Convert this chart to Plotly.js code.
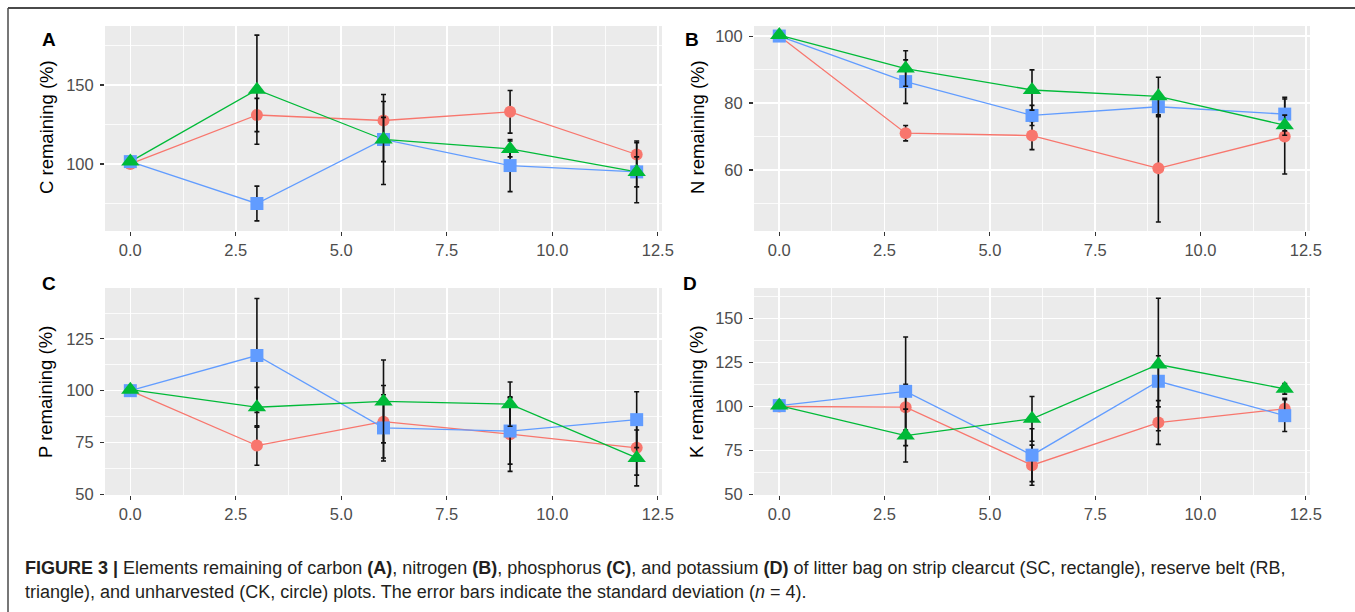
<!DOCTYPE html>
<html>
<head>
<meta charset="utf-8">
<script src="https://cdn.plot.ly/plotly-3.0.1.min.js"></script>
<style>
  html, body { margin: 0; padding: 0; background: #ffffff; }
  #chart { width: 1355px; height: 612px; }
</style>
</head>
<body>
<div id="chart"></div>
<script>
// Months after placement
const months = [0, 3, 6, 9, 12];

// Panel A: carbon remaining (%)
const cCK = [100, 131, 127.5, 133, 106];
const cCKsd = [0, 10.5, 12, 13.5, 7.5];
const cSC = [101.5, 75, 115.5, 99, 95];
const cSCsd = [0, 11, 28.5, 16.5, 19.5];
const cRB = [101.5, 147, 115.5, 109.5, 95];
const cRBsd = [0, 34.5, 14, 5, 9.5];

// Panel B: nitrogen remaining (%)
const nCK = [100, 71, 70.3, 60.5, 70];
const nCKsd = [0, 2.3, 4.2, 16, 11.2];
const nSC = [100, 86.4, 76.3, 78.9, 76.7];
const nSCsd = [0, 6.5, 3, 3, 5];
const nRB = [100.3, 90.3, 83.9, 82, 73.4];
const nRBsd = [0, 5.3, 6, 5.7, 3];

// Panel C: phosphorus remaining (%)
const pCK = [100, 73.5, 85, 79, 72.4];
const pCKsd = [0, 9.5, 17.5, 18, 13.2];
const pSC = [100, 117, 82, 80.5, 86];
const pSCsd = [0, 27.5, 16, 16, 13.5];
const pRB = [100.5, 92, 94.8, 93.5, 67.5];
const pRBsd = [0, 9.6, 20, 10.7, 13.5];

// Panel D: potassium remaining (%)
const kCK = [100, 99.6, 66.7, 90.9, 98.7];
const kCKsd = [0, 13, 11.4, 12.4, 6];
const kSC = [100.5, 108.6, 72.4, 114.3, 94.8];
const kSCsd = [0, 30.8, 15, 14.5, 9];
const kRB = [100.5, 83.5, 93, 123.8, 110];
const kRBsd = [0, 15, 12.7, 37.6, 3];

const panelLetters = ["A", "B", "C", "D"];
const yTitles = ["C remaining (%)", "N remaining (%)", "P remaining (%)", "K remaining (%)"];
const xTicks = [0, 2.5, 5, 7.5, 10, 12.5];

const captionLine1 = "<b>FIGURE 3 |</b> Elements remaining of carbon <b>(A)</b>, nitrogen <b>(B)</b>, phosphorus <b>(C)</b>, and potassium <b>(D)</b> of litter bag on strip clearcut (SC, rectangle), reserve belt (RB,";
const captionLine2 = "triangle), and unharvested (CK, circle) plots. The error bars indicate the standard deviation (<i>n</i> = 4).";

// ---- layout helpers (pixel geometry of the figure) ----
const W = 1355, H = 612;
const px = v => v / W;
const py = v => 1 - v / H;

const panels = [
  { series: [[cCK, cCKsd], [cSC, cSCsd], [cRB, cRBsd]], x0: 105, x1: 662, y0: 26, y1: 231, yr: [57.6, 187.3], dt: 50, mdt: 25, lx: 49, ly: 40, tx: 46, ty: 127 },
  { series: [[nCK, nCKsd], [nSC, nSCsd], [nRB, nRBsd]], x0: 754, x1: 1310, y0: 26, y1: 231, yr: [41.8, 103], dt: 20, mdt: 10, lx: 692, ly: 40, tx: 697, ty: 127 },
  { series: [[pCK, pCKsd], [pSC, pSCsd], [pRB, pRBsd]], x0: 105, x1: 662, y0: 288, y1: 495, yr: [49.6, 149.6], dt: 25, mdt: 12.5, lx: 49, ly: 283, tx: 46, ty: 392 },
  { series: [[kCK, kCKsd], [kSC, kSCsd], [kRB, kRBsd]], x0: 754, x1: 1310, y0: 288, y1: 495, yr: [49.8, 167.2], dt: 25, mdt: 12.5, lx: 690, ly: 283, tx: 697, ty: 392 }
];

const colors = ["#F8766D", "#619CFF", "#00BA38"];
const symbols = ["circle", "square", "triangle-up"];
const sizes = [12, 13, 16];
const names = ["CK", "SC", "RB"];

const tickFont = { family: "Liberation Sans, Arial, sans-serif", size: 16.5, color: "#4D4D4D" };

const traces = [];
const layout = {
  width: W, height: H,
  margin: { l: 0, r: 0, t: 0, b: 0 },
  paper_bgcolor: "#ffffff",
  plot_bgcolor: "#EBEBEB",
  showlegend: false,
  annotations: [],
  shapes: [
    { type: "line", xref: "paper", yref: "paper", x0: px(8), x1: 1, y0: py(8), y1: py(8), line: { color: "#4a4a4a", width: 2 } },
    { type: "line", xref: "paper", yref: "paper", x0: px(8), x1: px(8), y0: py(8), y1: 0, line: { color: "#4a4a4a", width: 1.5 } }
  ]
};

panels.forEach((p, i) => {
  const k = i + 1;
  const xa = "x" + (k === 1 ? "" : k);
  const ya = "y" + (k === 1 ? "" : k);
  // lines first (drawn beneath all points)
  p.series.forEach((s, j) => {
    traces.push({
      x: months, y: s[0], xaxis: xa, yaxis: ya, type: "scatter", mode: "lines",
      name: names[j], line: { color: colors[j], width: 1.3 }, hoverinfo: "skip"
    });
  });
  // points with error bars
  p.series.forEach((s, j) => {
    traces.push({
      x: months, y: s[0], xaxis: xa, yaxis: ya, type: "scatter", mode: "markers",
      name: names[j],
      marker: { color: colors[j], symbol: symbols[j], size: sizes[j], line: { width: 0 } },
      error_y: { type: "data", array: s[1], visible: true, color: "#111111", thickness: 1.6, width: 2.5 }
    });
  });

  const axisCommon = {
    showline: false, zeroline: false,
    ticks: "outside", ticklen: 4, tickwidth: 1.1, tickcolor: "#333333",
    gridcolor: "#ffffff", gridwidth: 1.6,
    tickfont: tickFont, fixedrange: true
  };
  layout["xaxis" + (k === 1 ? "" : k)] = Object.assign({}, axisCommon, {
    domain: [px(p.x0), px(p.x1)], anchor: ya,
    range: [-0.6, 12.6], tickmode: "array", tickvals: xTicks, tickformat: ".1f",
    minor: { dtick: 1.25, tick0: 0, showgrid: true, gridcolor: "#ffffff", gridwidth: 0.8, ticks: "" }
  });
  layout["yaxis" + (k === 1 ? "" : k)] = Object.assign({}, axisCommon, {
    domain: [py(p.y1), py(p.y0)], anchor: xa,
    range: p.yr, tickmode: "linear", tick0: 0, dtick: p.dt, ticklabelstandoff: 3,
    minor: { dtick: p.mdt, tick0: 0, showgrid: true, gridcolor: "#ffffff", gridwidth: 0.8, ticks: "" }
  });

  layout.annotations.push({
    xref: "paper", yref: "paper", x: px(p.lx), y: py(p.ly), xanchor: "center", yanchor: "middle",
    text: "<b>" + panelLetters[i] + "</b>", showarrow: false,
    font: { family: "Liberation Sans, Arial, sans-serif", size: 19, color: "#000000" }
  });
  layout.annotations.push({
    xref: "paper", yref: "paper", x: px(p.tx), y: py(p.ty), xanchor: "center", yanchor: "middle",
    text: yTitles[i], showarrow: false, textangle: -90,
    font: { family: "Liberation Sans, Arial, sans-serif", size: 18.5, color: "#000000" }
  });
});

layout.annotations.push({
  xref: "paper", yref: "paper", x: px(23), y: py(568), xanchor: "left", yanchor: "middle", align: "left",
  text: captionLine1, showarrow: false,
  font: { family: "Liberation Sans, Arial, sans-serif", size: 18, color: "#231F20" }
});
layout.annotations.push({
  xref: "paper", yref: "paper", x: px(23), y: py(592), xanchor: "left", yanchor: "middle", align: "left",
  text: captionLine2, showarrow: false,
  font: { family: "Liberation Sans, Arial, sans-serif", size: 18, color: "#231F20" }
});

Plotly.newPlot("chart", traces, layout, { displayModeBar: false, staticPlot: true });
</script>
</body>
</html>
